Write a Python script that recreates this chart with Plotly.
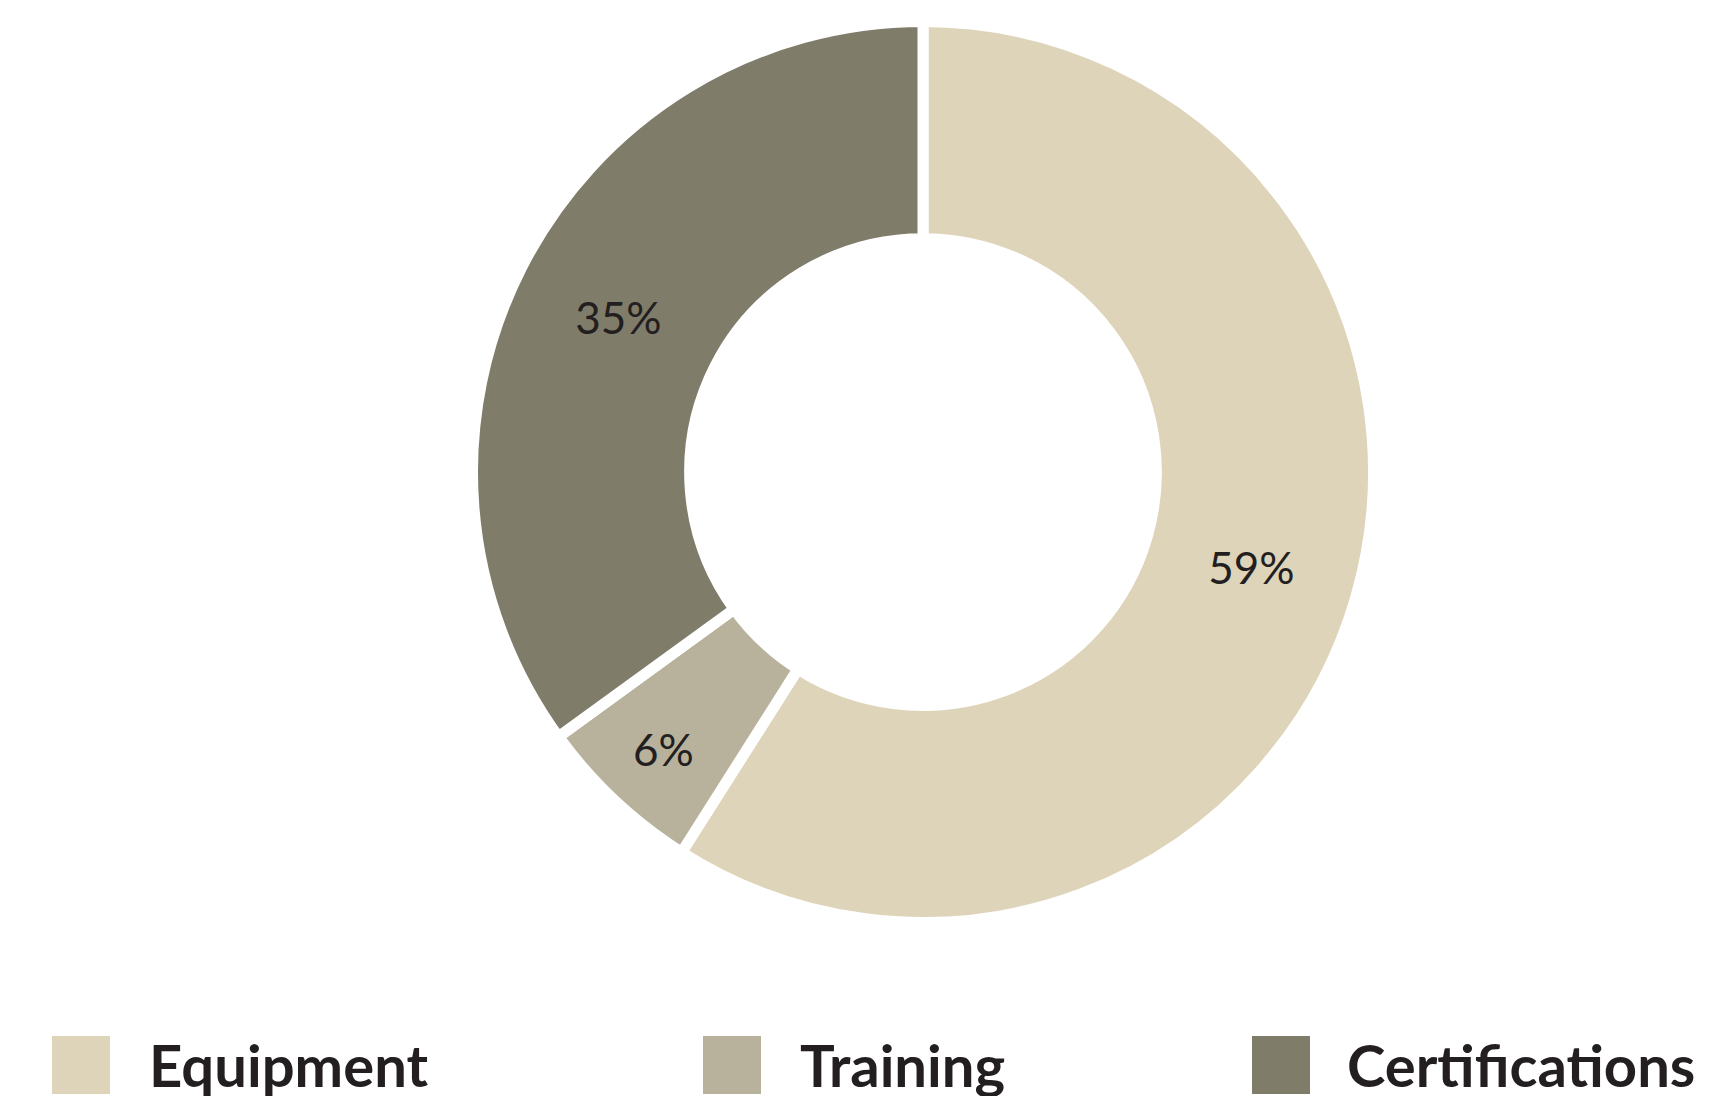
import plotly.graph_objects as go

W, H = 1723, 1096
OFF = 8  # page body margin offset

labels = ["Equipment", "Training", "Certifications"]
values = [59, 6, 35]
colors = ["#DED4B9", "#B8B29C", "#807C6A"]


def px_x(x):
    return (x - OFF) / W


def px_y(y):
    return (H - (y - OFF)) / H


fig = go.Figure()
fig.add_trace(go.Pie(
    labels=labels,
    values=values,
    sort=False,
    direction="clockwise",
    rotation=0,
    hole=0.518,
    marker=dict(colors=colors, line=dict(color="white", width=11)),
    textinfo="percent",
    texttemplate="%{percent:.0%}",
    textposition="inside",
    insidetextorientation="horizontal",
    textfont=dict(family="Lato", size=44, color="#231F20"),
    showlegend=False,
    domain=dict(x=[px_x(472.5), px_x(1373.5)], y=[px_y(922.5), px_y(21.5)]),
))

# legend drawn manually (big square swatches)
sq_left = [52, 703, 1252]
txt_left = [147, 798, 1345]
for lab, col, sx, tx in zip(labels, colors, sq_left, txt_left):
    fig.add_shape(type="rect", xref="paper", yref="paper",
                  x0=px_x(sx), x1=px_x(sx + 58),
                  y0=px_y(1094), y1=px_y(1036),
                  fillcolor=col, line=dict(width=0), layer="above")
    fig.add_annotation(xref="paper", yref="paper", x=px_x(tx), y=px_y(1064),
                       xanchor="left", yanchor="middle", showarrow=False,
                       text=lab, font=dict(family="Lato", size=58, color="#231F20", weight="bold"))

fig.update_layout(
    width=W, height=H,
    margin=dict(l=0, r=0, t=0, b=0),
    paper_bgcolor="white",
    plot_bgcolor="white",
)

fig.write_html("out.html")
